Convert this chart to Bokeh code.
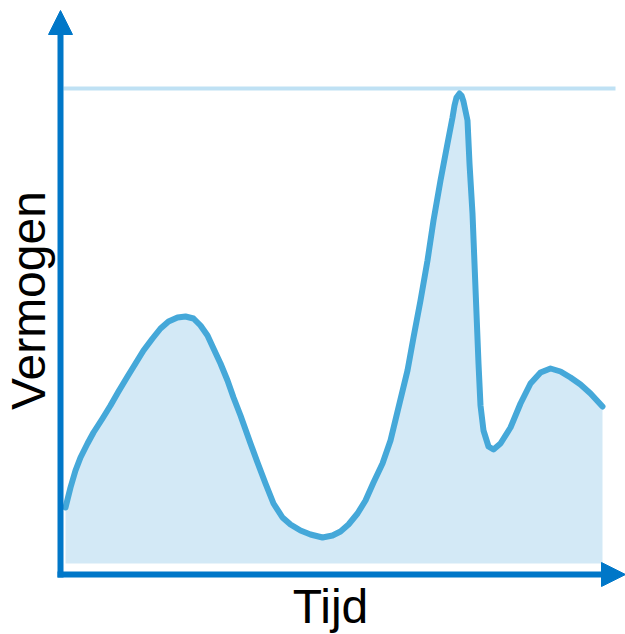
import math
from bokeh.plotting import figure
from bokeh.models import Range1d, Label, Arrow, NormalHead
from bokeh.embed import file_html
from bokeh.resources import INLINE

# Data (arbitrary units, no tick labels on the chart)
tijd = [0, 5, 10, 15, 22, 28, 37, 45, 53, 62, 70, 78, 87, 95, 103, 112, 120, 128,
        135, 142, 148, 155, 162, 168, 175, 185, 192, 200, 208, 217, 225, 235, 245,
        257, 267, 275, 283, 292, 300, 308, 317, 325, 333, 342, 348, 355, 362, 368,
        375, 382, 387, 389, 391, 394, 396, 398, 402, 404, 407, 409, 411, 413, 415,
        418, 423, 428, 435, 445, 455, 465, 475, 485, 495, 505, 515, 525, 537]
vermogen = [56, 76, 93, 106, 120, 131, 145, 158, 172, 187, 200, 213, 225, 235, 242,
            246, 247, 245, 238, 228, 215, 200, 183, 166, 148, 120, 101, 80, 60, 46,
            39, 33, 29, 26, 28, 32, 39, 50, 63, 81, 100, 123, 156, 193, 226, 263,
            303, 343, 383, 420, 446, 458, 466, 470, 468, 462, 443, 400, 350, 300, 250,
            200, 158, 133, 117, 114, 120, 136, 160, 180, 191, 195, 192, 186, 179, 170, 157]
max_vermogen = 475
x_label = "Tijd"
y_label = "Vermogen"

AXIS = "#0077c8"
CURVE = "#45a8d9"
FILL = "#d3e9f6"
MAXLINE = "#bfe1f4"

W, H = 625, 634
p = figure(width=W, height=H, output_backend="svg", toolbar_location=None,
           x_range=Range1d(-65, 560), y_range=Range1d(-71, 563),
           min_border=0, x_axis_type=None, y_axis_type=None)
p.outline_line_color = None
p.grid.visible = False
p.background_fill_color = "white"
p.border_fill_color = "white"

# area under curve
p.varea(x=tijd, y1=[0] * len(tijd), y2=vermogen, fill_color=FILL)

# maximum line
p.segment(x0=[-2], y0=[max_vermogen], x1=[550], y1=[max_vermogen],
          line_color=MAXLINE, line_width=4)

# curve
p.line(tijd, vermogen, line_color=CURVE, line_width=6,
       line_join="round", line_cap="round")

# axes with arrow heads
x_ax = -5
y_ax = -11
p.segment(x0=[x_ax], y0=[-14], x1=[x_ax], y1=[532], line_color=AXIS, line_width=6)
p.segment(x0=[-8], y0=[y_ax], x1=[540], y1=[y_ax], line_color=AXIS, line_width=6)
p.add_layout(Arrow(x_start=x_ax, y_start=520, x_end=x_ax, y_end=553,
                   line_alpha=0,
                   end=NormalHead(size=24, fill_color=AXIS, line_color=AXIS, line_width=1)))
p.add_layout(Arrow(x_start=520, y_start=y_ax, x_end=560, y_end=y_ax,
                   line_alpha=0,
                   end=NormalHead(size=24, fill_color=AXIS, line_color=AXIS, line_width=1)))

# axis titles
p.add_layout(Label(x=330, y=28, x_units="screen", y_units="screen", text=x_label,
                   text_font="Liberation Sans", text_font_size="48px",
                   text_align="center", text_baseline="alphabetic", text_color="black"))
p.add_layout(Label(x=28, y=334, x_units="screen", y_units="screen", text=y_label,
                   angle=math.pi / 2,
                   text_font="Liberation Sans", text_font_size="48px",
                   text_align="center", text_baseline="alphabetic", text_color="black"))

open("out.html", "w").write(file_html(p, INLINE))
